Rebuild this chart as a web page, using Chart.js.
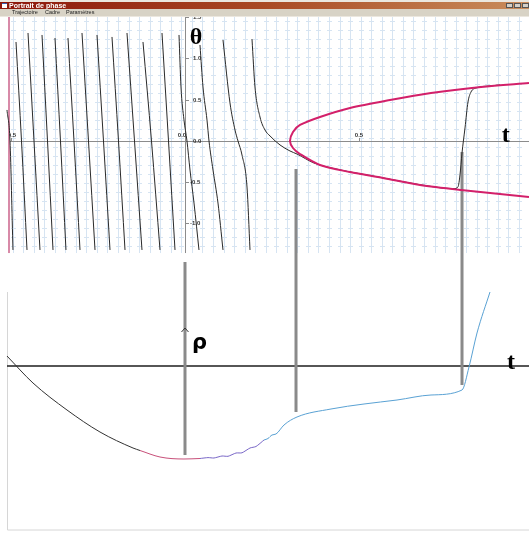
<!DOCTYPE html>
<html>
<head>
<meta charset="utf-8">
<script src="https://cdn.jsdelivr.net/npm/chart.js@4.4.0/dist/chart.umd.min.js"></script>
<style>
  html, body { margin: 0; padding: 0; background: #fff; overflow: hidden; }
  #wrap { position: relative; width: 529px; height: 533px; }
</style>
</head>
<body>
<div id="wrap"><canvas id="chart" width="529" height="533"></canvas></div>
<script>
// axis ranges (t shared, θ for the phase portrait, ρ for the lower plot)
const tRange = [-0.5316, 0.9885];
const thetaRange = [-4.7515, 1.709];
const rhoRange = [-1.67, 3.66];

// visible window of the phase portrait
const panelT = [-0.5086, 0.9885];
const panelTheta = [-1.358, 1.503];

const thetaTicks = [1.5, 1.0, 0.5, 0.0, -0.5, -1.0];
const tTicks = [-0.5, 0.0, 0.5];

// near-vertical trajectories (t values / θ values)
const trajT = [
  [-0.5115, -0.5029, -0.4943],
  [-0.4856, -0.4698, -0.4540],
  [-0.4511, -0.4339, -0.4167],
  [-0.4109, -0.3951, -0.3793],
  [-0.3736, -0.3578, -0.3420],
  [-0.3362, -0.3190, -0.3017],
  [-0.2960, -0.2773, -0.2586],
  [-0.2529, -0.2342, -0.2155],
  [-0.2098, -0.1911, -0.1724],
  [-0.1667, -0.1451, -0.1236],
  [-0.1207, -0.0963, -0.0718],
  [-0.0661, -0.0474, -0.0287],
  [-0.0172, -0.0115, -0.0029, 0.0057, 0.0144, 0.0259, 0.0402],
  [0.0431, 0.0517, 0.0632, 0.0690, 0.0805, 0.0948, 0.1092],
  [0.1092, 0.1293, 0.1437, 0.1523, 0.1638, 0.1782, 0.1868]
];
const trajTheta = [
  [0.376, 0, -1.321],
  [1.200, 0, -1.321],
  [1.309, 0, -1.321],
  [1.285, 0, -1.321],
  [1.248, 0, -1.321],
  [1.248, 0, -1.321],
  [1.309, 0, -1.321],
  [1.285, 0, -1.321],
  [1.261, 0, -1.321],
  [1.309, 0, -1.321],
  [1.200, 0, -1.321],
  [1.309, 0, -1.321],
  [1.285, 0.655, 0.255, 0, -0.352, -0.752, -1.321],
  [1.164, 0.655, 0.255, 0, -0.352, -0.752, -1.321],
  [1.224, 0.461, 0.133, 0, -0.170, -0.558, -1.321]
];

// trajectory that hugs the lower branch then jumps to the upper one
const jumpT = [0.1925, 0.2011, 0.2155, 0.2299, 0.2443, 0.2730, 0.3017, 0.3218, 0.3707, 0.4454,
  0.5603, 0.6753, 0.7730, 0.7845, 0.7902, 0.7960, 0.8046, 0.8132, 0.8218, 0.8362, 0.8764, 0.9052];
const jumpTheta = [1.236, 0.655, 0.291, 0.133, 0.061, -0.048, -0.121, -0.158, -0.267, -0.350,
  -0.440, -0.530, -0.578, -0.555, -0.412, -0.145, 0.158, 0.473, 0.594, 0.642, 0.667, 0.679];

// pink parabola (upper branch right to left, then lower branch)
const parabT = [0.9885, 0.8506, 0.7069, 0.5891, 0.4741, 0.3879, 0.3305, 0.3103, 0.3017,
  0.3103, 0.3305, 0.3879, 0.4741, 0.5690, 0.6753, 0.7931, 0.9885];
const parabTheta = [0.703, 0.655, 0.582, 0.497, 0.400, 0.291, 0.194, 0.109, 0,
  -0.085, -0.158, -0.291, -0.376, -0.448, -0.533, -0.594, -0.679];

// lower plot ρ(t), split by colour
const rhoBlackT = [-0.5115, -0.4368, -0.3391, -0.2443, -0.1494, -0.1293];
const rhoBlack = [0.10, -0.17, -0.44, -0.66, -0.82, -0.845];
const rhoPinkT = [-0.1293, -0.0718, -0.0029, 0.0431];
const rhoPink = [-0.845, -0.91, -0.93, -0.925];
const rhoPurpleT = [0.0431, 0.0661, 0.0833, 0.1063, 0.1236, 0.1466, 0.1638, 0.1868, 0.2040, 0.2270];
const rhoPurple = [-0.925, -0.916, -0.92, -0.90, -0.903, -0.87, -0.868, -0.82, -0.805, -0.74];
const rhoBlueT = [0.2270, 0.2385, 0.2500, 0.2615, 0.2845, 0.3218, 0.4195, 0.5144, 0.6092, 0.7069,
  0.7960, 0.8161, 0.8391, 0.8764];
const rhoBlue = [-0.74, -0.725, -0.69, -0.68, -0.59, -0.51, -0.43, -0.38, -0.34, -0.29,
  -0.24, -0.01, 0.33, 0.74];

// grey guide bars joining both plots
const guideT = [0, 0.3190, 0.7960];
const guideRhoTop = [1.04, 1.97, 2.14];
const guideRhoBottom = [-0.89, -0.46, -0.19];

const pts = (xs, ys) => xs.map((x, i) => ({ x: x, y: ys[i] }));

const datasets = [];
guideT.forEach((t, i) => {
  datasets.push({
    data: [{ x: t, y: guideRhoTop[i] }, { x: t, y: guideRhoBottom[i] }],
    yAxisID: 'y2', borderColor: '#8a8a8a', borderWidth: 3, order: 10
  });
});
trajT.forEach((ts, i) => {
  datasets.push({
    data: pts(ts, trajTheta[i]), yAxisID: 'y',
    borderColor: '#2a2a2a', borderWidth: 1, cubicInterpolationMode: 'monotone', order: 3
  });
});
datasets.push({
  data: pts(jumpT, jumpTheta), yAxisID: 'y',
  borderColor: '#2a2a2a', borderWidth: 1, cubicInterpolationMode: 'monotone', order: 3
});
datasets.push({
  data: pts(parabT, parabTheta), yAxisID: 'y',
  borderColor: '#d3206a', borderWidth: 2, tension: 0.3, order: 2
});
datasets.push({ data: pts(rhoBlackT, rhoBlack), yAxisID: 'y2', borderColor: '#333333', borderWidth: 1, cubicInterpolationMode: 'monotone', order: 2 });
datasets.push({ data: pts(rhoPinkT, rhoPink), yAxisID: 'y2', borderColor: '#c8507a', borderWidth: 1, cubicInterpolationMode: 'monotone', order: 2 });
datasets.push({ data: pts(rhoPurpleT, rhoPurple), yAxisID: 'y2', borderColor: '#7a68c8', borderWidth: 1, tension: 0.2, order: 2 });
datasets.push({ data: pts(rhoBlueT, rhoBlue), yAxisID: 'y2', borderColor: '#5aa2d4', borderWidth: 1, cubicInterpolationMode: 'monotone', order: 2 });

// background: direction field, axes and tick labels
const backdrop = {
  id: 'backdrop',
  beforeDatasetsDraw(chart) {
    const ctx = chart.ctx;
    const sx = chart.scales.x, sy = chart.scales.y, sr = chart.scales.y2;
    const left = sx.getPixelForValue(panelT[0]);
    const right = sx.getPixelForValue(panelT[1]);
    const top = sy.getPixelForValue(panelTheta[1]);
    const bottom = sy.getPixelForValue(panelTheta[0]);
    ctx.save();
    ctx.fillStyle = '#fff';
    ctx.fillRect(0, 0, chart.width, chart.height);

    // direction field
    ctx.strokeStyle = '#d6e4f2';
    ctx.lineWidth = 1;
    for (let x = left + 4.5; x < right; x += 10.55) {
      const cx = Math.round(x) + 0.5;
      ctx.beginPath();
      ctx.moveTo(cx, top);
      ctx.lineTo(cx, bottom);
      ctx.stroke();
      for (let y = top + 4; y < bottom; y += 9) {
        ctx.beginPath();
        ctx.moveTo(cx - 2.5, Math.round(y) + 0.5);
        ctx.lineTo(cx + 2.5, Math.round(y) + 0.5);
        ctx.stroke();
      }
    }

    // phase portrait axes
    const x0 = sx.getPixelForValue(0), y0 = sy.getPixelForValue(0);
    ctx.strokeStyle = '#8c8c8c';
    ctx.beginPath();
    ctx.moveTo(left, Math.round(y0) + 0.5);
    ctx.lineTo(right, Math.round(y0) + 0.5);
    ctx.moveTo(Math.round(x0) + 0.5, top);
    ctx.lineTo(Math.round(x0) + 0.5, bottom);
    ctx.stroke();

    ctx.fillStyle = '#333';
    ctx.font = 'bold 6px "Liberation Sans", Arial, sans-serif';
    ctx.textBaseline = 'middle';
    ctx.textAlign = 'left';
    thetaTicks.forEach(v => {
      const py = Math.round(sy.getPixelForValue(v)) + 0.5;
      ctx.beginPath();
      ctx.moveTo(x0, py);
      ctx.lineTo(x0 + 4, py);
      ctx.stroke();
      ctx.fillText(v.toFixed(1), x0 + (v < 0 ? 5 : 8), py);
    });
    ctx.save();
    ctx.beginPath();
    ctx.rect(left + 1, top, right - left, bottom - top);
    ctx.clip();
    ctx.textAlign = 'center';
    ctx.textBaseline = 'alphabetic';
    tTicks.forEach(v => {
      const px = sx.getPixelForValue(v);
      ctx.beginPath();
      ctx.moveTo(Math.round(px) + 0.5, y0 - 3);
      ctx.lineTo(Math.round(px) + 0.5, y0);
      ctx.stroke();
      ctx.fillText(v.toFixed(1), v === 0 ? px - 3 : px, y0 - 4);
    });
    ctx.restore();

    // left border of the portrait window
    ctx.strokeStyle = '#d88aa8';
    ctx.lineWidth = 2;
    ctx.beginPath();
    ctx.moveTo(left + 1, top);
    ctx.lineTo(left + 1, bottom);
    ctx.stroke();

    // lower plot frame and t axis
    const lx = sx.getPixelForValue(-0.5115);
    const r0 = sr.getPixelForValue(0);
    ctx.strokeStyle = '#d6d6d6';
    ctx.lineWidth = 1;
    ctx.beginPath();
    ctx.moveTo(Math.round(lx) + 0.5, sr.getPixelForValue(0.74));
    ctx.lineTo(Math.round(lx) + 0.5, sr.getPixelForValue(-1.64));
    ctx.lineTo(chart.width, sr.getPixelForValue(-1.64));
    ctx.stroke();
    ctx.strokeStyle = '#1e1e1e';
    ctx.lineWidth = 1.5;
    ctx.beginPath();
    ctx.moveTo(lx, r0);
    ctx.lineTo(chart.width, r0);
    ctx.stroke();
    ctx.restore();
  },
  afterDatasetsDraw(chart) {
    const ctx = chart.ctx;
    const sx = chart.scales.x, sy = chart.scales.y, sr = chart.scales.y2;
    const w = chart.width;
    ctx.save();

    // arrow head on the ρ axis
    const ax = sx.getPixelForValue(0), ay = sr.getPixelForValue(0.38);
    ctx.strokeStyle = '#333';
    ctx.lineWidth = 1;
    ctx.beginPath();
    ctx.moveTo(ax - 3.5, ay + 4);
    ctx.lineTo(ax, ay);
    ctx.lineTo(ax + 3.5, ay + 4);
    ctx.stroke();

    // axis names
    ctx.fillStyle = '#000';
    ctx.textAlign = 'left';
    ctx.textBaseline = 'alphabetic';
    ctx.font = 'bold 24px "Liberation Serif", "DejaVu Serif", serif';
    ctx.fillText('θ', sx.getPixelForValue(0.014), sy.getPixelForValue(1.17));
    ctx.fillText('t', sx.getPixelForValue(0.910), sy.getPixelForValue(-0.01));
    ctx.fillText('t', sx.getPixelForValue(0.925), sr.getPixelForValue(-0.03));
    ctx.font = 'bold 21px "DejaVu Sans", sans-serif';
    ctx.fillText('ρ', sx.getPixelForValue(0.020), sr.getPixelForValue(0.17));

    // window chrome
    ctx.fillStyle = '#ebe7df';
    ctx.fillRect(0, 0, w, 17);
    const g = ctx.createLinearGradient(0, 0, w, 0);
    g.addColorStop(0, '#8c170b');
    g.addColorStop(0.5, '#a94a24');
    g.addColorStop(1, '#c98d5c');
    ctx.fillStyle = g;
    ctx.fillRect(0, 2, w, 7);
    ctx.fillStyle = '#fff';
    ctx.fillRect(2, 3, 5, 5);
    ctx.fillStyle = '#3a5fb0';
    ctx.fillRect(2, 3, 5, 1);
    ctx.fillStyle = '#fff';
    ctx.font = 'bold 7px "Liberation Sans", Arial, sans-serif';
    ctx.textBaseline = 'middle';
    ctx.fillText('Portrait de phase', 9, 5.8);
    ctx.fillStyle = '#d4d0c8';
    [506, 514, 522].forEach(bx => ctx.fillRect(bx, 3, 7, 5));
    ctx.strokeStyle = '#555';
    ctx.lineWidth = 1;
    [506, 514, 522].forEach(bx => ctx.strokeRect(bx + 0.5, 3.5, 6, 4));
    ctx.fillStyle = '#d8d3c6';
    ctx.fillRect(0, 9, w, 7);
    ctx.fillStyle = '#222';
    ctx.font = '5.5px "Liberation Sans", Arial, sans-serif';
    ctx.fillText('Trajectoire', 12, 12.6);
    ctx.fillText('Cadre', 45, 12.6);
    ctx.fillText('Paramètres', 66, 12.6);
    ctx.restore();
  }
};

new Chart(document.getElementById('chart').getContext('2d'), {
  type: 'line',
  data: { datasets: datasets },
  options: {
    responsive: false,
    animation: false,
    layout: { padding: 0 },
    elements: { point: { radius: 0 } },
    plugins: { legend: { display: false }, tooltip: { enabled: false } },
    scales: {
      x: { type: 'linear', min: tRange[0], max: tRange[1], display: false },
      y: { type: 'linear', min: thetaRange[0], max: thetaRange[1], display: false },
      y2: { type: 'linear', min: rhoRange[0], max: rhoRange[1], display: false }
    }
  },
  plugins: [backdrop]
});
</script>
</body>
</html>
